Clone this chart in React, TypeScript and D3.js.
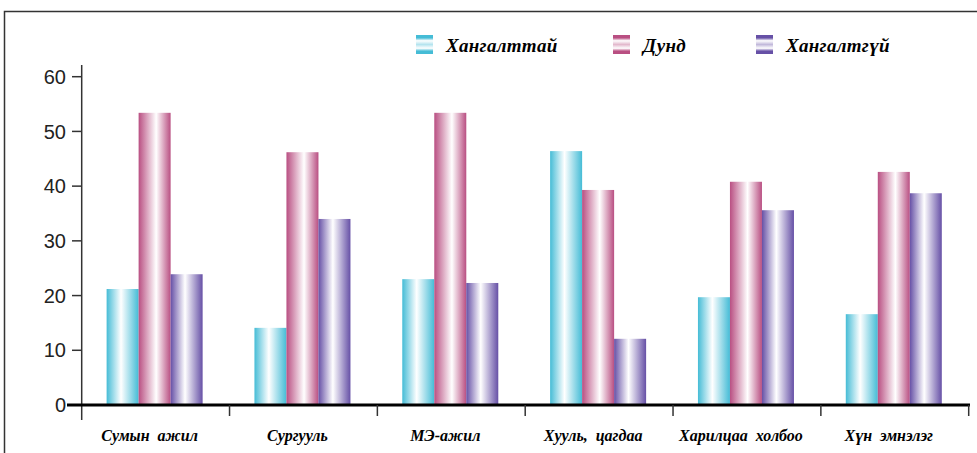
import React from "react";
import * as d3 from "d3";

const categories = ["Сумын  ажил", "Сургууль", "МЭ-ажил", "Хууль,  цагдаа", "Харилцаа  холбоо", "Хүн  эмнэлэг"];
const seriesNames = ["Хангалттай", "Дунд", "Хангалтгүй"];
const sufficient = [21.2, 14.1, 23.0, 46.4, 19.7, 16.6];
const medium = [53.4, 46.2, 53.4, 39.3, 40.8, 42.6];
const insufficient = [23.9, 34.0, 22.3, 12.1, 35.6, 38.7];
const yTicks = [0, 10, 20, 30, 40, 50, 60];
const seriesColors = ["#45bcd6", "#b94f82", "#6650a6"];

const W = 977;
const H = 453;

export default function App() {
  const series = [sufficient, medium, insufficient];
  const x0 = d3.scaleBand<string>().domain(categories).range([81.7, 968.7]).paddingInner(0).paddingOuter(0);
  const bandW = x0.bandwidth();
  const barW = 32;
  const x1 = d3.scaleBand<number>().domain([0, 1, 2]).range([0, barW * 3]);
  const y = d3.scaleLinear().domain([0, 60]).range([405, 76.7]);

  const fontSerif = "'Liberation Serif', 'DejaVu Serif', serif";
  const fontSans = "'Liberation Sans', Arial, sans-serif";

  const legendX = [416, 613, 756];

  return (
    <svg width={W} height={H} style={{ position: "absolute", left: 0, top: 0, background: "#fff" }}>
      <defs>
        {seriesColors.map((c, i) => (
          <linearGradient key={"g" + i} id={"bar" + i} x1="0" x2="1" y1="0" y2="0">
            <stop offset="0%" stopColor={c} />
            <stop offset={i === 1 ? "55%" : "45%"} stopColor="#ffffff" />
            <stop offset="100%" stopColor={c} />
          </linearGradient>
        ))}
        {seriesColors.map((c, i) => (
          <linearGradient key={"l" + i} id={"leg" + i} x1="0" x2="0" y1="0" y2="1">
            <stop offset="0%" stopColor={c} />
            <stop offset="15%" stopColor={c} />
            <stop offset="30%" stopColor="#ffffff" />
            <stop offset="50%" stopColor={d3.interpolateRgb(c, "#fff")(0.6)} />
            <stop offset="70%" stopColor="#ffffff" />
            <stop offset="85%" stopColor={c} />
            <stop offset="100%" stopColor={c} />
          </linearGradient>
        ))}
      </defs>

      {/* frame */}
      <path d={`M4.5,${H} V11.5 H${W}`} fill="none" stroke="#333" strokeWidth={1.5} />

      {/* legend */}
      {seriesNames.map((n, i) => (
        <g key={n}>
          <rect x={legendX[i]} y={35} width={17} height={19} fill={`url(#leg${i})`} />
          <text
            x={legendX[i] + 30}
            y={51.5}
            fontFamily={fontSerif}
            fontWeight="bold"
            fontStyle="italic"
            fontSize={19}
            letterSpacing={0.3}
            fill="#000"
          >
            {n}
          </text>
        </g>
      ))}

      {/* bars */}
      {categories.map((cat, ci) => {
        const gx = (x0(cat) as number) + bandW / 2 - (barW * 3) / 2 - 1;
        return (
          <g key={cat}>
            {series.map((s, si) => (
              <rect
                key={si}
                x={gx + (x1(si) as number)}
                y={y(s[ci])}
                width={barW}
                height={y(0) - y(s[ci])}
                fill={`url(#bar${si})`}
              />
            ))}
          </g>
        );
      })}

      {/* y axis */}
      <line x1={81.7} x2={81.7} y1={65} y2={420} stroke="#333" strokeWidth={1.5} />
      {yTicks.map((t) => (
        <g key={t}>
          <line x1={72} x2={81.7} y1={y(t)} y2={y(t)} stroke="#333" strokeWidth={1.5} />
          <text
            x={66}
            y={y(t)}
            dy="0.36em"
            textAnchor="end"
            fontFamily={fontSans}
            fontSize={20}
            fill="#222"
          >
            {t}
          </text>
        </g>
      ))}

      {/* x axis */}
      <line x1={67} x2={970} y1={405} y2={405} stroke="#000" strokeWidth={3} />
      {categories.map((cat) => (
        <line
          key={"t" + cat}
          x1={(x0(cat) as number) + bandW}
          x2={(x0(cat) as number) + bandW}
          y1={405}
          y2={416}
          stroke="#333"
          strokeWidth={1.5}
        />
      ))}
      {categories.map((cat) => (
        <text
          key={"l" + cat}
          x={(x0(cat) as number) + bandW / 2 - 6}
          y={441}
          textAnchor="middle"
          fontFamily={fontSerif}
          fontWeight="bold"
          fontStyle="italic"
          fontSize={16}
          fill="#000"
          style={{ whiteSpace: "pre" }}
        >
          {cat}
        </text>
      ))}
    </svg>
  );
}
